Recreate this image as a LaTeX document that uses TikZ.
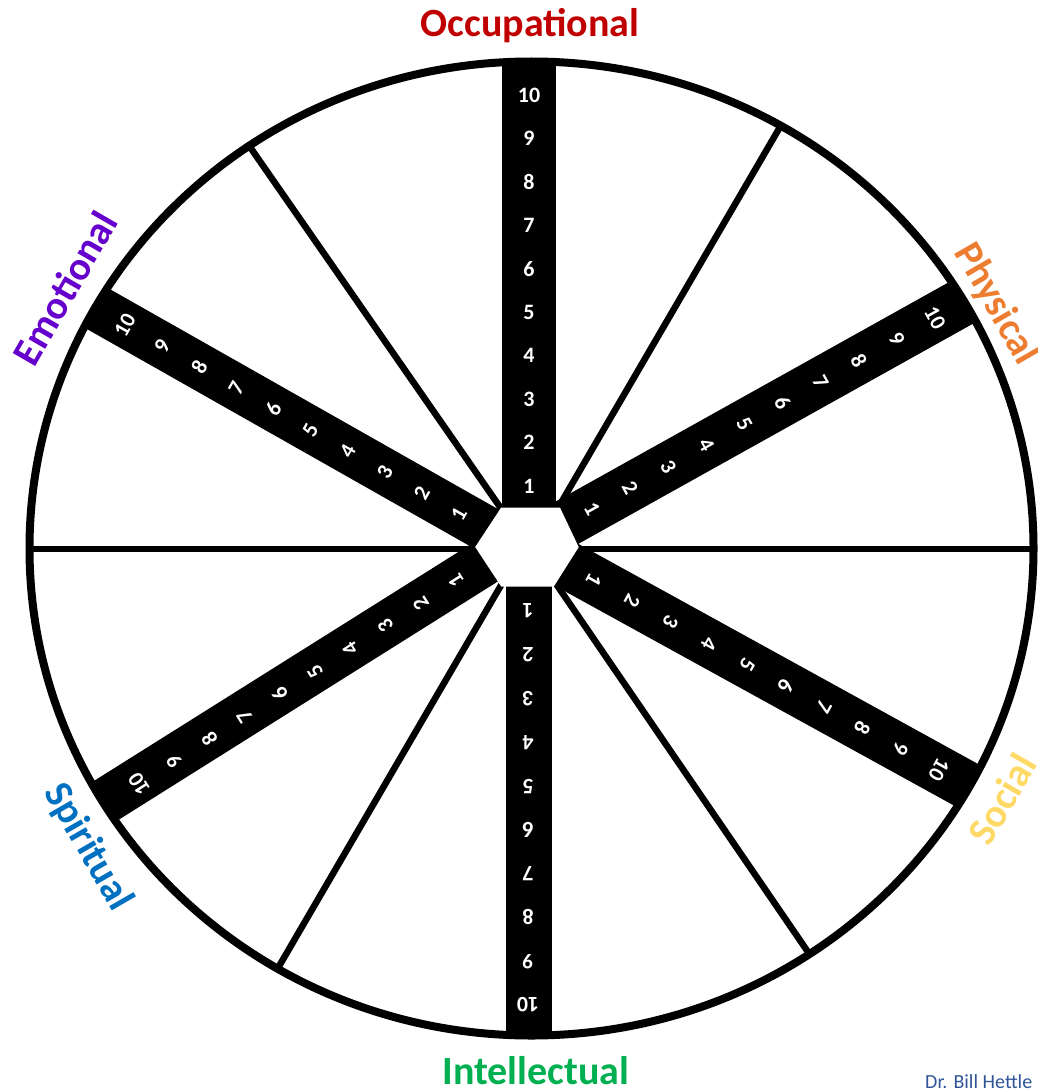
\documentclass[tikz,border=0pt]{standalone}
\usepackage{fontspec}
\setmainfont{Carlito}
\usetikzlibrary{calc}
\definecolor{occc}{HTML}{C00000}
\definecolor{intc}{HTML}{00B050}
\definecolor{emoc}{HTML}{6600CC}
\definecolor{phyc}{HTML}{ED7D31}
\definecolor{socc}{HTML}{FFD966}
\definecolor{spic}{HTML}{0070C0}
\definecolor{authc}{HTML}{2F5597}
\begin{document}
\begin{tikzpicture}[x=1pt,y=-1pt,
  digit/.style={text=white,font=\fontsize{22}{22}\selectfont\bfseries,inner sep=0pt},
  spoke/.style={line width=6.5pt},
  barline/.style={line width=#1},
  lab/.style={font=\fontsize{40}{40}\selectfont\bfseries,inner sep=0pt}]
\useasboundingbox (0,0) rectangle (1038,1089);
% ellipse centre
\coordinate (E) at (531.5,548.5);
% thin spokes
\coordinate (hL) at (27,549);
\coordinate (hR) at (1036,549);
\coordinate (urO) at (780,127);  \coordinate (urI) at (551,520);
\coordinate (ulO) at (250,147);  \coordinate (ulI) at (509,520);
\coordinate (llO) at (278,968);  \coordinate (llI) at (507,575);
\coordinate (lrO) at (808,952);  \coordinate (lrI) at (550,575);
\draw[spoke] (hL) -- (hR);
\draw[spoke] (urO) -- (urI);
\draw[spoke] (ulO) -- (ulI);
\draw[spoke] (llO) -- (llI);
\draw[spoke] (lrO) -- (lrI);
% bars
\coordinate (topI) at (529,547); \coordinate (topO) at (529,30);
\coordinate (botI) at (529,547); \coordinate (botO) at (529,1070);
\coordinate (phyI) at (527,545); \coordinate (phyO) at (1020,270);
\coordinate (socI) at (527,543); \coordinate (socO) at (1030,820);
\coordinate (emoI) at (527,552); \coordinate (emoO) at (40,276);
\coordinate (spiI) at (527,536); \coordinate (spiO) at (40,842);
\begin{scope}
  \clip (E) ellipse [x radius=503pt, y radius=488pt];
  \draw[barline=54pt] (topI) -- (topO);
  \draw[barline=46pt] (botI) -- (botO);
  \draw[barline=48pt] (phyI) -- (phyO);
  \draw[barline=48pt] (socI) -- (socO);
  \draw[barline=46pt] (emoI) -- (emoO);
  \draw[barline=46pt] (spiI) -- (spiO);
\end{scope}
% hexagon
\draw[white,fill=white,line width=3pt] (477,547) -- (502,509) -- (559,509) -- (577,547) -- (553,585) -- (502,585) -- cycle;
% outer ellipse
\draw[line width=8pt] (E) ellipse [x radius=502pt, y radius=487pt];
% digits
\coordinate (t1) at (529,486);  \coordinate (t10) at (529,95);
\coordinate (b1) at (528,611);  \coordinate (b10) at (528,1005);
\coordinate (p1) at (592,509);  \coordinate (p10) at (935,318);
\coordinate (s1) at (594,580);  \coordinate (s10) at (939,770);
\coordinate (e1) at (459,514);  \coordinate (e10) at (125,325);
\coordinate (r1) at (456,581);  \coordinate (r10) at (139,784);
\foreach \i in {1,...,10}{
  \node[digit] (dt\i) at ($(t1)!{(\i-1)/9}!(t10)$) {\i};
  \node[digit,rotate=180] (db\i) at ($(b1)!{(\i-1)/9}!(b10)$) {\i};
  \node[digit,rotate=-61] (dp\i) at ($(p1)!{(\i-1)/9}!(p10)$) {\i};
  \node[digit,rotate=-119] (ds\i) at ($(s1)!{(\i-1)/9}!(s10)$) {\i};
  \node[digit,rotate=60.5] (de\i) at ($(e1)!{(\i-1)/9}!(e10)$) {\i};
  \node[digit,rotate=122.6] (dr\i) at ($(r1)!{(\i-1)/9}!(r10)$) {\i};
}
% labels
\node[lab,text=occc,anchor=base] (occ) at (530,37) {Occupational};
\node[lab,text=intc,anchor=base] (int) at (536,1084) {Intellectual};
\node[lab,text=emoc,rotate=60] (emo) at (65,288) {Emotional};
\node[lab,text=phyc,rotate=-60] (phy) at (996,304) {Physical};
\node[lab,text=socc,rotate=60] (soc) at (1002,799) {Social};
\node[lab,text=spic,rotate=-60] (spi) at (88,847) {Spiritual};
\node[font=\fontsize{20}{20}\selectfont,text=authc,anchor=base west,inner sep=0pt] (auth) at (925,1088) {Dr. Bill Hettle};
\end{tikzpicture}
\end{document}
